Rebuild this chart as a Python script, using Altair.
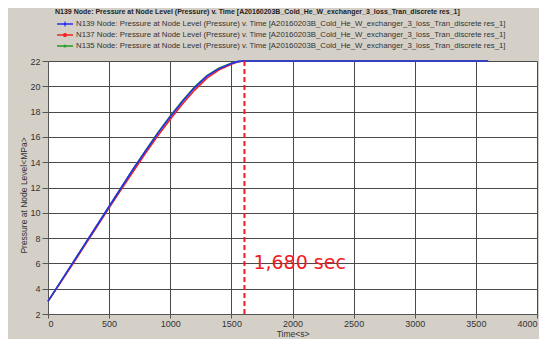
import altair as alt
import pandas as pd

# ---------------- data ----------------
chart_title = "N139 Node: Pressure at Node Level (Pressure) v. Time [A20160203B_Cold_He_W_exchanger_3_loss_Tran_discrete res_1]"
series_names = [
    "N139 Node: Pressure at Node Level (Pressure) v. Time [A20160203B_Cold_He_W_exchanger_3_loss_Tran_discrete res_1]",
    "N137 Node: Pressure at Node Level (Pressure) v. Time [A20160203B_Cold_He_W_exchanger_3_loss_Tran_discrete res_1]",
    "N135 Node: Pressure at Node Level (Pressure) v. Time [A20160203B_Cold_He_W_exchanger_3_loss_Tran_discrete res_1]",
]
series_colors = ["#2b2bf2", "#f22222", "#1f9a1f"]

time_s = [0, 100, 200, 300, 400, 500, 600, 700, 800, 900, 1000, 1100, 1200,
          1300, 1400, 1500, 1550, 1600, 3600]
n139 = [3.0, 4.5, 6.0, 7.5, 9.0, 10.5, 12.0, 13.5, 14.9, 16.3, 17.6, 18.8, 19.9,
        20.8, 21.4, 21.8, 21.95, 22.0, 22.0]
n137 = [3.0, 4.45, 5.9, 7.4, 8.9, 10.4, 11.85, 13.3, 14.75, 16.1, 17.4, 18.6, 19.7,
        20.65, 21.3, 21.75, 21.92, 22.0, 22.0]
n135 = [3.0, 4.5, 6.0, 7.5, 9.0, 10.5, 12.0, 13.5, 14.95, 16.35, 17.65, 18.85, 19.95,
        20.85, 21.45, 21.82, 21.96, 22.0, 22.0]

x_ticks = [0, 500, 1000, 1500, 2000, 2500, 3000, 3500, 4000]
y_ticks = [2, 4, 6, 8, 10, 12, 14, 16, 18, 20, 22]

marker_time = [1607]
annotation_time = [1680]
annotation_value = [6]
annotation_label = ["1,680 sec"]

# ---------------- tables ----------------
rows = []
for name, vals in zip(series_names, [n139, n137, n135]):
    for t, v in zip(time_s, vals):
        rows.append({"series": name, "time": t, "pressure": v})
df = pd.DataFrame(rows)
marker_df = pd.DataFrame({"time": marker_time})
annot_df = pd.DataFrame({"time": annotation_time, "pressure": annotation_value,
                         "label": annotation_label})

# legend symbols: line segment + marker (filled paths)
line_part = "M-1.6,-0.13H1.6V0.13H-1.6Z"
legend_shapes = [
    line_part + " M0,-0.42L0.42,0L0,0.42L-0.42,0Z M-0.08,-0.55H0.08V0.55H-0.08Z",
    line_part + " M-0.42,0A0.42,0.42 0 1,1 0.42,0A0.42,0.42 0 1,1 -0.42,0Z",
    line_part + " M0,-0.45L0.12,-0.12L0.45,-0.12L0.18,0.08L0.28,0.42L0,0.2L-0.28,0.42L-0.18,0.08L-0.45,-0.12L-0.12,-0.12Z",
]

FONT = "Liberation Sans"

x_enc = alt.X("time:Q", scale=alt.Scale(domain=[0, 4000], nice=False, zero=False),
              axis=alt.Axis(values=x_ticks, title="Time<s>", format="d",
                            labelOverlap=False, tickSize=4, labelPadding=1,
                            titlePadding=1))
y_enc = alt.Y("pressure:Q", scale=alt.Scale(domain=[2, 22], nice=False, zero=False),
              axis=alt.Axis(values=y_ticks, title="Pressure at Node Level<MPa>",
                            labelOverlap=False, tickSize=6, labelPadding=2,
                            titleX=-25, titleY=134, titleAlign="center",
                            titleBaseline="middle", titleAngle=270))

legend_kw = dict(orient="none", legendX=12, legendY=-42,
                 title=None, symbolSize=100, symbolOpacity=1,
                 symbolStrokeWidth=0, labelOffset=6,
                 rowPadding=2, labelLimit=700,
                 labelFont=FONT, labelFontSize=7.8,
                 labelColor="#333333", padding=0)

legend_points = alt.Chart(df).mark_point(filled=True, opacity=0).encode(
    x=x_enc, y=y_enc,
    color=alt.Color("series:N",
                    scale=alt.Scale(domain=series_names, range=series_colors),
                    legend=alt.Legend(**legend_kw)),
    shape=alt.Shape("series:N",
                    scale=alt.Scale(domain=series_names, range=legend_shapes),
                    legend=alt.Legend(**legend_kw)),
)

def series_line(idx):
    return alt.Chart(df).transform_filter(
        alt.datum.series == series_names[idx]
    ).mark_line(strokeWidth=1.6, color=series_colors[idx]).encode(
        x=x_enc, y=y_enc)

marker = alt.Chart(marker_df).mark_rule(
    color="#ee1c25", strokeWidth=2, strokeDash=[5, 3]
).encode(x=x_enc)

annotation = alt.Chart(annot_df).mark_text(
    align="left", baseline="middle", color="#ee1c25",
    font="DejaVu Sans", fontSize=19
).encode(x=x_enc, y=y_enc, text="label:N")

chart = alt.layer(
    legend_points, series_line(1), series_line(2), series_line(0), marker, annotation
).properties(
    width=489, height=253,
    padding={"left": 40, "top": 53, "right": 2, "bottom": 25},
    autosize=alt.AutoSizeParams(type="none"),
    background="#d4d0c8",
    title=alt.TitleParams(chart_title, anchor="start", frame="group", dx=7,
                          offset=4, font=FONT, fontSize=7.0, fontWeight="bold",
                          color="#222222"),
).configure_view(
    fill="white", stroke=None
).configure_axis(
    grid=True, gridColor="#4a4a4a", gridWidth=1, gridOpacity=1,
    domainColor="#555555", tickColor="#555555",
    labelFont=FONT, labelFontSize=9, labelColor="#333333",
    titleFont=FONT, titleFontSize=8.5, titleFontWeight="normal", titleColor="#333333",
)

chart.save("out.html", embed_options={"renderer": "svg", "actions": False})
